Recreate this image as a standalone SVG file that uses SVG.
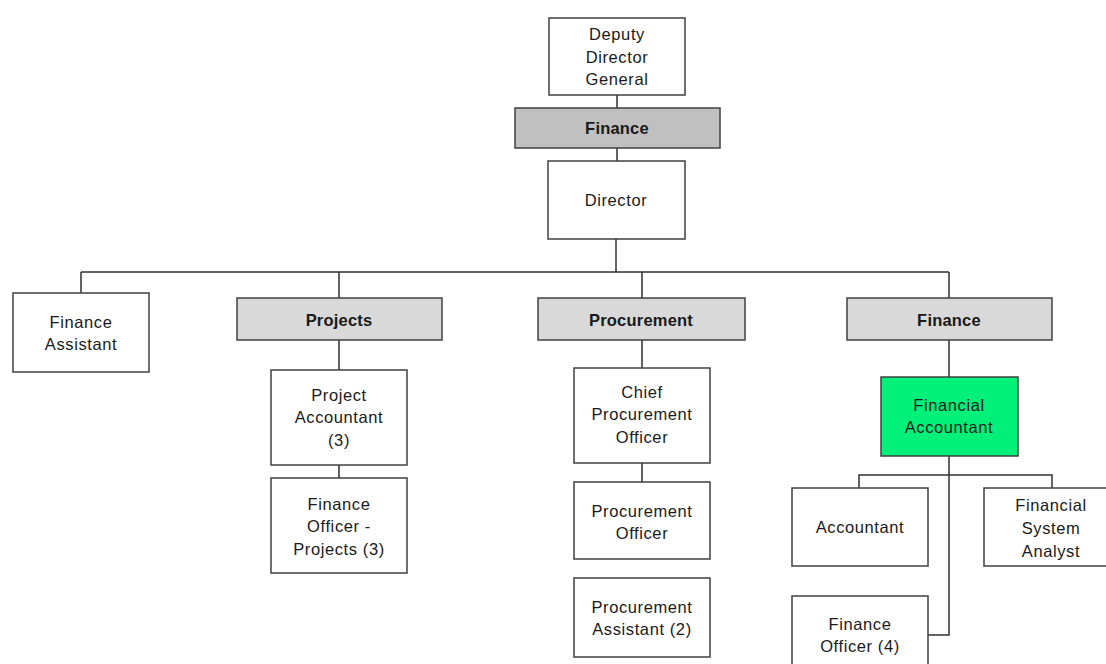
<svg xmlns="http://www.w3.org/2000/svg" width="1106" height="664" viewBox="0 0 1106 664">
<style>
.box{fill:#ffffff;stroke:#404040;stroke-width:1.5}
.hdr{fill:#d9d9d9;stroke:#404040;stroke-width:1.5}
.hdr2{fill:#c0c0c0;stroke:#404040;stroke-width:1.5}
.grn{fill:#00f07a;stroke:#404040;stroke-width:1.5}
text{font-family:"Liberation Sans",Arial,sans-serif;font-size:16.5px;fill:#1a1a1a;text-anchor:middle;letter-spacing:0.6px}
.b{font-weight:bold;letter-spacing:0.2px}
.conn{fill:none;stroke:#303030;stroke-width:1.5}
</style>
<rect width="1106" height="664" fill="#ffffff"/>
<g id="connectors" class="conn">
<path d="M617 95V108M617 148V161M616 239V272M81 272H949M81 272V293M339 272V298M642 272V298M949 272V298"/>
<path d="M339 340V370M339 465V478"/>
<path d="M642 340V368M642 463V482"/>
<path d="M949 340V377M949 456V635H928M859 488V475H1052V488"/>
</g>
<g id="ddg"><rect class="box" x="549" y="18" width="136" height="77"/><text x="617" y="40">Deputy</text><text x="617" y="63">Director</text><text x="617" y="85">General</text></g>
<g id="finance-top"><rect class="hdr2" x="515" y="108" width="205" height="40"/><text class="b" x="617" y="134">Finance</text></g>
<g id="director"><rect class="box" x="548" y="161" width="137" height="78"/><text x="616" y="206">Director</text></g>
<g id="finance-assistant"><rect class="box" x="13" y="293" width="136" height="79"/><text x="81" y="328">Finance</text><text x="81" y="350">Assistant</text></g>
<g id="projects"><rect class="hdr" x="237" y="298" width="205" height="42"/><text class="b" x="339" y="326">Projects</text></g>
<g id="project-accountant"><rect class="box" x="271" y="370" width="136" height="95"/><text x="339" y="401">Project</text><text x="339" y="423">Accountant</text><text x="339" y="446">(3)</text></g>
<g id="finance-officer-projects"><rect class="box" x="271" y="478" width="136" height="95"/><text x="339" y="510">Finance</text><text x="339" y="532">Officer -</text><text x="339" y="555">Projects (3)</text></g>
<g id="procurement"><rect class="hdr" x="538" y="298" width="207" height="42"/><text class="b" x="641" y="326">Procurement</text></g>
<g id="chief-procurement-officer"><rect class="box" x="574" y="368" width="136" height="95"/><text x="642" y="398">Chief</text><text x="642" y="420">Procurement</text><text x="642" y="443">Officer</text></g>
<g id="procurement-officer"><rect class="box" x="574" y="482" width="136" height="77"/><text x="642" y="517">Procurement</text><text x="642" y="539">Officer</text></g>
<g id="procurement-assistant"><rect class="box" x="574" y="578" width="136" height="79"/><text x="642" y="613">Procurement</text><text x="642" y="635">Assistant (2)</text></g>
<g id="finance-right"><rect class="hdr" x="847" y="298" width="205" height="42"/><text class="b" x="949" y="326">Finance</text></g>
<g id="financial-accountant"><rect class="grn" x="881" y="377" width="137" height="79"/><text x="949" y="411">Financial</text><text x="949" y="433">Accountant</text></g>
<g id="accountant"><rect class="box" x="792" y="488" width="136" height="78"/><text x="860" y="533">Accountant</text></g>
<g id="financial-system-analyst"><rect class="box" x="984" y="488" width="136" height="78"/><text x="1051" y="511">Financial</text><text x="1051" y="534">System</text><text x="1051" y="557">Analyst</text></g>
<g id="finance-officer-4"><rect class="box" x="792" y="596" width="136" height="80"/><text x="860" y="630">Finance</text><text x="860" y="652">Officer (4)</text></g>
</svg>
